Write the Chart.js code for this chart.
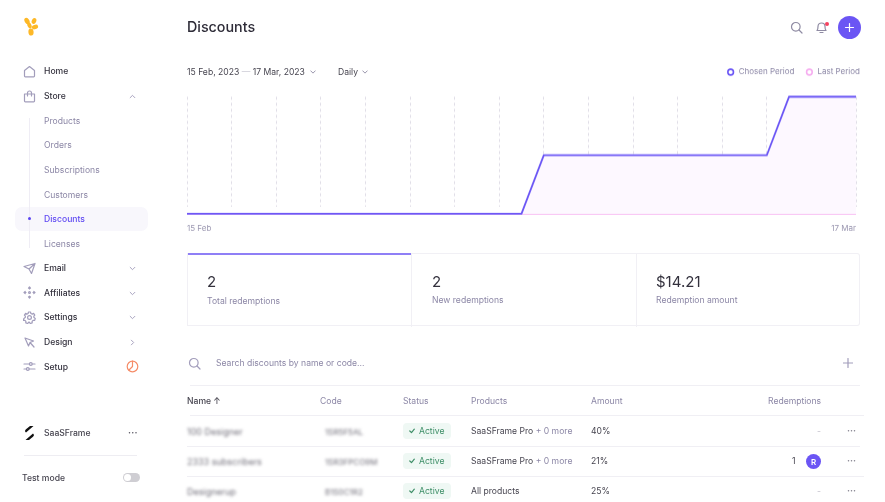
<!DOCTYPE html>
<html><head><meta charset="utf-8">
<script src="https://cdn.jsdelivr.net/npm/chart.js@4"></script>
<style>
html,body{margin:0;padding:0;background:#fff;overflow:hidden}
#root{position:relative;width:885px;height:502px;overflow:hidden;font-family:Inter,"Noto Sans",sans-serif;font-size:8.6px;color:#8c87a6;filter:blur(.3px)}
.t{position:absolute;white-space:nowrap;transform:translateY(calc(-50% + .5px));line-height:1}
.nav{color:#33313d;font-weight:500}
.sub{color:#8c87a6}
.dark{color:#46444f}
.r{position:absolute}
.b{filter:blur(1.8px);color:#6f6d78;font-size:9px}
.c{filter:blur(1.6px);color:#6f6d78;font-size:8px}
svg.i{position:absolute;fill:none;stroke:#a29dbb;stroke-width:1.2;stroke-linecap:round;stroke-linejoin:round}
.badge{position:absolute;left:403px;width:48px;height:16px;background:#eff8f4;border-radius:4px}
#wrap{position:absolute;left:177px;top:57px;width:700px;height:185.500px}
</style></head><body><div id="root">
<svg class="i" style="left:22px;top:16px;stroke:none" width="20" height="22" viewBox="0 0 20 22"><g fill="#fdb827"><ellipse cx="5" cy="5" rx="2.3" ry="3.4" transform="rotate(-30 5 5)"/><ellipse cx="12" cy="5" rx="2.2" ry="3" transform="rotate(25 12 5)"/><ellipse cx="13" cy="11" rx="2.2" ry="3.2" transform="rotate(70 13 11)"/><ellipse cx="9" cy="16" rx="2.6" ry="3.6" transform="rotate(-5 9 16)"/><ellipse cx="7.500" cy="9.500" rx="2" ry="3" transform="rotate(-25 7.500 9.500)"/></g></svg>

<div class="r" style="left:15px;top:207px;width:133px;height:24px;background:#f8f7fc;border-radius:7px"></div>
<div class="r" style="left:29px;top:118px;width:1px;height:130px;background:#efedf5"></div>
<div class="r" style="left:28px;top:217px;width:3px;height:3px;background:#5b45f2;border-radius:50%"></div>

<svg class="i" style="left:23px;top:65px" width="13" height="13" viewBox="0 0 13 13"><path d="M1.500 5.500 6.500 1.500l5 4V11a.8.8 0 0 1-.8.8H2.300A.8.8 0 0 1 1.500 11z"/></svg>
<svg class="i" style="left:23px;top:90px" width="13" height="13" viewBox="0 0 13 13"><path d="M1.500 4h10v7a.8.8 0 0 1-.8.8H2.300a.8.8 0 0 1-.8-.8zM4.500 6V3a2 2 0 0 1 4 0v3"/></svg>
<svg class="i" style="left:23px;top:262px" width="13" height="13" viewBox="0 0 13 13"><path d="M1 4.500 12 1.500 8.500 11.500 6 7zM6 7l6-5.500"/></svg>
<svg class="i" style="left:23px;top:286px" width="13" height="13" viewBox="0 0 13 13"><path d="M6.500 1v2M6.500 10v2M1 6.500h2M10 6.500h2M5.500 2.200 6.500 1l1 1.200M5.500 10.800 6.500 12l1-1.200M2.200 5.500 1 6.500l1.200 1M10.800 5.500 12 6.500l-1.200 1"/><circle cx="6.500" cy="6.500" r=".9"/></svg>
<svg class="i" style="left:23px;top:311px" width="13" height="13" viewBox="0 0 13 13"><circle cx="6.500" cy="6.500" r="1.900"/><path d="M5.500 1h2l.4 1.500 1.400.6 1.300-.7 1.200 1.700-1 1.100.2 1.400 1.300.8-.6 2-1.600-.1-1 1.100.1 1.500-2 .6-.9-1.300H5.700l-.9 1.300-2-.6.1-1.500-1-1.100-1.600.1.600-2 1.300-.8.200-1.400-1-1.100L2.600 2.400l1.300.7 1.200-.6z"/></svg>
<svg class="i" style="left:23px;top:336px" width="13" height="13" viewBox="0 0 13 13"><path d="M2 2l8.500 3-3.500 1.500L5.500 10zM7 6.500l4 4.500"/></svg>
<svg class="i" style="left:23px;top:360px" width="13" height="13" viewBox="0 0 13 13"><path d="M1 4h5M9.500 4H12M1 9h2M6.500 9H12"/><circle cx="7.800" cy="4" r="1.400"/><circle cx="4.800" cy="9" r="1.400"/></svg>

<div class="t nav" style="left:44px;top:71px">Home</div>
<div class="t nav" style="left:44px;top:96px">Store</div>
<div class="t sub" style="left:44px;top:120.500px">Products</div>
<div class="t sub" style="left:44px;top:145px">Orders</div>
<div class="t sub" style="left:44px;top:170px">Subscriptions</div>
<div class="t sub" style="left:44px;top:194.500px">Customers</div>
<div class="t" style="left:44px;top:218.500px;color:#5f49f2;font-weight:500">Discounts</div>
<div class="t sub" style="left:44px;top:243.500px">Licenses</div>
<div class="t nav" style="left:44px;top:268px">Email</div>
<div class="t nav" style="left:44px;top:292.500px">Affiliates</div>
<div class="t nav" style="left:44px;top:317px">Settings</div>
<div class="t nav" style="left:44px;top:342px">Design</div>
<div class="t nav" style="left:44px;top:366.500px">Setup</div>
<svg class="i" style="left:129px;top:94px" width="7" height="5" viewBox="0 0 9 6"><path d="M1.500 4.500 4.500 1.500 7.500 4.500"/></svg>
<svg class="i" style="left:129px;top:266px" width="7" height="5" viewBox="0 0 9 6"><path d="M1.500 1.500 4.500 4.500 7.500 1.500"/></svg>
<svg class="i" style="left:129px;top:291px" width="7" height="5" viewBox="0 0 9 6"><path d="M1.500 1.500 4.500 4.500 7.500 1.500"/></svg>
<svg class="i" style="left:129px;top:315px" width="7" height="5" viewBox="0 0 9 6"><path d="M1.500 1.500 4.500 4.500 7.500 1.500"/></svg>
<svg class="i" style="left:130px;top:339px" width="5" height="7" viewBox="0 0 6 9"><path d="M1.500 1.500 4.500 4.500 1.500 7.500"/></svg>
<svg class="i" style="left:126px;top:360px;stroke:#f58c68" width="13" height="13" viewBox="0 0 13 13"><circle cx="6.500" cy="6.500" r="5.300"/><path d="M6.500 1.200V6.500L3 10" /></svg>
<svg class="i" style="left:24px;top:426px;stroke:none" width="11" height="14" viewBox="0 0 11 14"><path fill="#111" d="M6 0 9.500 0 2 6.500c-1.500-1.200-1-2.400 0-3.300zM5 14 1.500 14 9 7.500c1.500 1.200 1 2.400 0 3.300z"/></svg>
<div class="t dark" style="left:44px;top:433px;font-weight:500">SaaSFrame</div>
<div class="t" style="left:128px;top:432px;color:#55535f;font-size:9px;letter-spacing:.2px;font-weight:700">···</div>
<div class="r" style="left:24px;top:455px;width:113px;height:1px;background:#eeedf2"></div>
<div class="t dark" style="left:22px;top:478px;font-weight:500">Test mode</div>
<div class="r" style="left:123px;top:473px;width:17px;height:9px;background:#cfced3;border-radius:5px"></div>
<div class="r" style="left:124px;top:474px;width:7px;height:7px;background:#fff;border-radius:50%"></div>

<div class="t" style="left:187px;top:27px;font-size:14.300px;font-weight:500;color:#2e2c38">Discounts</div>
<svg class="i" style="left:790px;top:21px;stroke:#8f8ba3" width="13" height="13" viewBox="0 0 13 13"><circle cx="5.800" cy="5.800" r="4.300"/><path d="m9 9 3 3"/></svg>
<svg class="i" style="left:815px;top:20px;stroke:#8f8ba3" width="13" height="14" viewBox="0 0 13 14"><path d="M2 10.500c1-1 1-2 1-4a3.500 3.500 0 0 1 7 0c0 2 0 3 1 4zM5 12.500h3"/></svg>
<div class="r" style="left:824.500px;top:21.500px;width:4px;height:4px;border-radius:50%;background:#f5425f"></div>
<div class="r" style="left:838px;top:15.500px;width:23px;height:23px;border-radius:50%;background:#6b55f4"></div>
<svg class="i" style="left:844px;top:22px;stroke:#fff" width="11" height="11" viewBox="0 0 11 11"><path d="M5.500 1.500v8M1.500 5.500h8"/></svg>

<div class="t dark" style="left:187px;top:71.500px">15 Feb, 2023 <span style="color:#c9c7d3">—</span> 17 Mar, 2023</div>
<svg class="i" style="left:309.500px;top:70px;stroke:#8f8ba3" width="6" height="4" viewBox="0 0 8 5"><path d="M1 1 4 4 7 1"/></svg>
<div class="t dark" style="left:338px;top:71.500px">Daily</div>
<svg class="i" style="left:362px;top:70px;stroke:#8f8ba3" width="6" height="4" viewBox="0 0 8 5"><path d="M1 1 4 4 7 1"/></svg>

<div id="wrap"><canvas id="c"></canvas></div>

<div class="r" style="left:187px;top:253px;width:673px;height:73px;box-sizing:border-box;border:1px solid #f1f0f5;border-left:none;border-radius:0 3px 3px 0"></div>
<div class="r" style="left:187px;top:253px;width:224px;height:2px;background:#8f7ff6"></div>
<div class="r" style="left:187px;top:253px;width:1px;height:73px;background:#f1f0f5"></div>
<div class="r" style="left:411px;top:254px;width:1px;height:73px;background:#f1f0f5"></div>
<div class="r" style="left:636px;top:254px;width:1px;height:73px;background:#f1f0f5"></div>
<div class="t" style="left:207px;top:281px;font-size:15px;color:#33313d">2</div>
<div class="t" style="left:207px;top:301px">Total redemptions</div>
<div class="t" style="left:432px;top:280.500px;font-size:15px;color:#33313d">2</div>
<div class="t" style="left:432px;top:300px">New redemptions</div>
<div class="t" style="left:656px;top:280.500px;font-size:15px;color:#33313d">$14.21</div>
<div class="t" style="left:656px;top:300px">Redemption amount</div>

<svg class="i" style="left:188px;top:357px" width="13" height="13" viewBox="0 0 13 13"><circle cx="5.800" cy="5.800" r="4.300"/><path d="m9 9 3 3"/></svg>
<div class="t" style="left:216px;top:363px">Search discounts by name or code...</div>
<svg class="i" style="left:843px;top:358px" width="10" height="10" viewBox="0 0 10 10"><path d="M5 .5v9M.5 5h9"/></svg>
<div class="r" style="left:190px;top:385px;width:670px;height:1px;background:#f0eff4"></div>
<div class="r" style="left:190px;top:415px;width:674px;height:1px;background:#f0eff4"></div>
<div class="r" style="left:187px;top:445.500px;width:673px;height:1px;background:#f0eff4"></div>
<div class="r" style="left:187px;top:476px;width:677px;height:1px;background:#f0eff4"></div>

<div class="t dark" style="left:187px;top:400.500px;font-weight:500">Name ↑</div>
<div class="t" style="left:320px;top:400.500px">Code</div>
<div class="t" style="left:403px;top:400.500px">Status</div>
<div class="t" style="left:471px;top:400.500px">Products</div>
<div class="t" style="left:591px;top:400.500px">Amount</div>
<div class="t" style="left:768px;top:400.500px">Redemptions</div>

<div class="t b" style="left:187px;top:431px">100 Designer</div>
<div class="t b" style="left:187px;top:461px">2333 subscribers</div>
<div class="t b" style="left:187px;top:491px">Designerup</div>
<div class="t c" style="left:325px;top:431px">1SR5F5AL</div>
<div class="t c" style="left:325px;top:461px">1SR3FPCO9M</div>
<div class="t c" style="left:325px;top:491px">B1S0C1R2</div>

<div class="badge" style="top:423px"></div><div class="badge" style="top:453px"></div><div class="badge" style="top:483px"></div>
<div class="t" style="left:419px;top:431px;color:#3f8f68">Active</div>
<div class="t" style="left:419px;top:461px;color:#3f8f68">Active</div>
<div class="t" style="left:419px;top:491px;color:#3f8f68">Active</div>
<svg class="i" style="left:409px;top:428px;stroke:#3f8f68" width="6" height="6" viewBox="0 0 6 6"><path d="M.8 3 2.500 4.600 5.300 1.200"/></svg>
<svg class="i" style="left:409px;top:458px;stroke:#3f8f68" width="6" height="6" viewBox="0 0 6 6"><path d="M.8 3 2.500 4.600 5.300 1.200"/></svg>
<svg class="i" style="left:409px;top:488px;stroke:#3f8f68" width="6" height="6" viewBox="0 0 6 6"><path d="M.8 3 2.500 4.600 5.300 1.200"/></svg>

<div class="t dark" style="left:471px;top:431px">SaaSFrame Pro <span style="color:#8c87a6">+ 0 more</span></div>
<div class="t dark" style="left:471px;top:461px">SaaSFrame Pro <span style="color:#8c87a6">+ 0 more</span></div>
<div class="t dark" style="left:471px;top:491px">All products</div>
<div class="t dark" style="left:591px;top:431px">40%</div>
<div class="t dark" style="left:591px;top:461px">21%</div>
<div class="t dark" style="left:591px;top:491px">25%</div>
<div class="t" style="left:817px;top:431px;color:#c3c1cc">-</div>
<div class="t" style="left:817px;top:491px;color:#c3c1cc">-</div>
<div class="t dark" style="left:792px;top:461px">1</div>
<div class="r" style="left:806px;top:453.500px;width:15px;height:15px;border-radius:50%;background:#6b55f4"></div>
<div class="t" style="left:811px;top:461px;color:#fff;font-size:8px;font-weight:600">R</div>
<div class="t" style="left:847px;top:430px;color:#85838f;font-weight:700;font-size:9px">···</div>
<div class="t" style="left:847px;top:460px;color:#85838f;font-weight:700;font-size:9px">···</div>
<div class="t" style="left:847px;top:490px;color:#85838f;font-weight:700;font-size:9px">···</div>
</div>
<script>
const categories = ["15 Feb","16 Feb","17 Feb","18 Feb","19 Feb","20 Feb","21 Feb","22 Feb","23 Feb","24 Feb","25 Feb","26 Feb","27 Feb","28 Feb","1 Mar","2 Mar","3 Mar","4 Mar","5 Mar","6 Mar","7 Mar","8 Mar","9 Mar","10 Mar","11 Mar","12 Mar","13 Mar","14 Mar","15 Mar","16 Mar","17 Mar"];
const chosenPeriod = [0,0,0,0,0,0,0,0,0,0,0,0,0,0,0,0,1,1,1,1,1,1,1,1,1,1,1,2,2,2,2];
const lastPeriod = [0,0,0,0,0,0,0,0,0,0,0,0,0,0,0,0,0,0,0,0,0,0,0,0,0,0,0,0,0,0,0];
const layoutTweak = {id:'layoutTweak',
 beforeInit(ch){const f=ch.legend.fit;ch.legend.fit=function(){f.call(this);this.height+=10.5;};},
 beforeDatasetsDraw(ch){const a=ch.chartArea;ch.ctx.clearRect(a.left-1,a.bottom-7,a.right-a.left+2,9);}};
new Chart(document.getElementById('c'),{
 type:'line',
 data:{labels:categories,datasets:[
  {label:'Chosen Period',data:chosenPeriod,borderColor:'#6a55f5',backgroundColor:'#fdf8ff',borderWidth:1.8,fill:'origin',tension:0,pointRadius:0,clip:false},
  {label:'Last Period',data:lastPeriod,borderColor:'#f6aef0',backgroundColor:'#f6aef0',borderWidth:1.8,fill:false,tension:0,pointRadius:0,clip:false}
 ]},
 plugins:[layoutTweak],
 options:{responsive:true,maintainAspectRatio:false,animation:false,
  layout:{padding:{left:10,right:6,top:0,bottom:0}},
  plugins:{tooltip:{enabled:false},
   legend:{display:true,position:'top',align:'end',
    labels:{usePointStyle:true,pointStyle:'circle',boxWidth:8,boxHeight:4,padding:11,color:'#8c87a6',font:{family:'Inter',size:8},
     generateLabels(ch){return ch.data.datasets.map((d,i)=>({text:d.label,fillStyle:'#fff',strokeStyle:d.borderColor,lineWidth:1.6,pointStyle:'circle',fontColor:'#8c87a6',datasetIndex:i}));}}}},
  scales:{
   x:{offset:false,border:{display:false,dash:[3,3]},
    grid:{drawTicks:false,lineWidth:1,color:c=>c.index%2===0?'#e0dee7':'rgba(0,0,0,0)'},
    ticks:{autoSkip:false,maxRotation:0,minRotation:0,align:'inner',padding:10,color:'#9a96b0',font:{family:'Inter',size:8},
     callback(v,i){return (i===0||i===categories.length-1)?categories[i]:'';}}},
   y:{position:'right',min:0,max:2,border:{display:false},grid:{display:false},ticks:{display:false},afterFit(s){s.width=15;}}
  }}
});
</script>
</body></html>
